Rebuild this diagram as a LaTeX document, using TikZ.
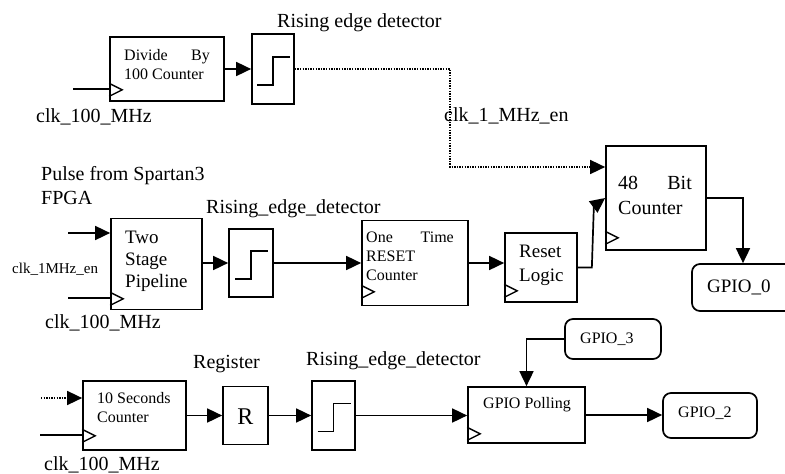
\documentclass[tikz,border=0pt]{standalone}
\usepackage{fontspec}
\setmainfont{Liberation Serif}
\usetikzlibrary{arrows.meta,calc}
\newcommand\stepsym[1]{\draw[stepln] ($(#1)+(-16,16)$) -- ++(16,0) -- ++(0,-28) -- ++(17,0);}
\newcommand\clkmark[2]{\draw[clkm] ($(#1.south west)+(0,6.5-#2)$) -- ++(13,-6.5) -- ++(-13,-6.5);}
\begin{document}
\begin{tikzpicture}[x=1pt,y=-1pt,
  blk/.style 2 args={draw,line width=1.7pt,minimum width=#1pt,minimum height=#2pt,inner sep=0pt},
  pad/.style 2 args={blk={#1}{#2},rounded corners=8pt},
  wire/.style={line width=1.7pt},
  arr/.style={wire,-{Triangle[length=15pt,width=14pt]}},
  dotw/.style={line width=1.6pt,dash pattern=on 1.3pt off 1.3pt},
  lbl/.style={inner sep=0pt,anchor=base west,font=\fontsize{20}{22}\selectfont},
  sml/.style={lbl,font=\fontsize{16}{18}\selectfont},
  med/.style={lbl,font=\fontsize{19}{21}\selectfont},
  stepln/.style={line width=1.9pt},
  clkm/.style={line width=1.4pt}]
\useasboundingbox (0,0) rectangle (785,474);
\fill[white] (0,0) rectangle (785,474);
% row 1
\node[blk={114}{64}] (div) at (167,69) {};
\node[blk={42}{70}] (red1) at (273,69) {};
\node[blk={100}{104}] (b48) at (656,198) {};
\node[pad={108}{47}] (gp0) at (746,287.5) {};
% row 2
\node[blk={91}{91}] (pipe) at (156.5,264) {};
\node[blk={44}{68}] (red2) at (251,263) {};
\node[blk={106}{85}] (otr) at (415,263) {};
\node[blk={72}{69}] (rst) at (541,267.5) {};
% row 3
\node[blk={103}{69}] (ten) at (134.5,415.5) {};
\node[blk={45}{58}] (reg) at (245.5,415.5) {};
\node[blk={43}{69}] (red3) at (333.5,415.5) {};
\node[blk={117}{56}] (poll) at (526.5,415) {};
\node[pad={96}{40}] (gp3) at (613,339) {};
\node[pad={94}{45}] (gp2) at (710,415.5) {};
% step symbols
\stepsym{red1}
\stepsym{red2}
\stepsym{red3}
% clock marks
\clkmark{div}{12}
\clkmark{pipe}{11.5}
\clkmark{otr}{14.5}
\clkmark{rst}{12}
\clkmark{b48}{13}
\clkmark{ten}{15}
\clkmark{poll}{10}
% texts
\node[lbl] (t1) at (277,27) {Rising edge detector};
\node[lbl] (c1) at (36,122) {clk\_100\_MHz};
\node[sml] (dv1) at (124,60) {Divide};
\node[sml,anchor=base east] (dv2) at (210,60) {By};
\node[sml] (dv3) at (124,79) {100 Counter};
\node[lbl] (en1) at (444,121) {clk\_1\_MHz\_en};
\node[lbl] (pl1) at (41,180) {Pulse from Spartan3};
\node[lbl] (pl2) at (41,204) {FPGA};
\node[lbl] (t2) at (206,213) {Rising\_edge\_detector};
\node[med] (tw1) at (125,243) {Two};
\node[med] (tw2) at (125,265) {Stage};
\node[med] (tw3) at (125,287) {Pipeline};
\node[sml,font=\fontsize{15}{17}\selectfont] (en2) at (12,273) {clk\_1MHz\_en};
\node[lbl] (c2) at (45,328) {clk\_100\_MHz};
\node[sml] (ot1) at (366,242) {One};
\node[sml,anchor=base east] (ot2) at (454,242) {Time};
\node[sml] (ot3) at (366,261) {RESET};
\node[sml] (ot4) at (366,280) {Counter};
\node[med] (rs1) at (519,257) {Reset};
\node[med] (rs2) at (519,281) {Logic};
\node[lbl] (b1) at (618,189) {48};
\node[lbl,anchor=base east] (b2) at (692,189) {Bit};
\node[lbl] (b3) at (618,214) {Counter};
\node[med] (g0) at (707,292) {GPIO\_0};
\node[lbl] (rg) at (193,368) {Register};
\node[lbl] (t3) at (306,365) {Rising\_edge\_detector};
\node[sml] (tn1) at (97,403) {10 Seconds};
\node[sml] (tn2) at (97,422) {Counter};
\node[inner sep=0pt,anchor=base,font=\fontsize{24}{26}\selectfont] (rr) at (245.5,424) {R};
\node[lbl] (c3) at (44,470) {clk\_100\_MHz};
\node[sml] (pt) at (483,408) {GPIO Polling};
\node[sml] (g3t) at (580,343) {GPIO\_3};
\node[sml] (g2t) at (678,417) {GPIO\_2};
% connectors
\draw[arr] (div.east) -- (red1.west);
\coordinate (dk) at (450,167);
\draw[dotw,-{Triangle[length=15pt,width=14pt]}] (red1.east) -| (dk) -- (dk -| b48.west);
\coordinate (c1in) at (73,89);
\draw[wire] (c1in) -- (c1in -| div.west);
\coordinate (pin) at (68,233);
\draw[arr] (pin) -- (pin -| pipe.west);
\coordinate (pck) at (68,298);
\draw[wire] (pck) -- (pck -| pipe.west);
\draw[arr] (red2.west -| pipe.east) -- (red2.west);
\draw[arr] (red2.east) -- (otr.west);
\draw[arr] (otr.east) -- (otr.east -| rst.west);
\draw[arr] (rst.east) -- ++(14,0) -- ++(2,-61) -- (b48.west);
\draw[arr] (b48.east) -| ($(gp0.north)+(-3,0)$);
\coordinate (tin) at (41,398);
\draw[dotw,-{Triangle[length=15pt,width=14pt]}] (tin) -- (tin -| ten.west);
\coordinate (tck) at (40,435);
\draw[wire] (tck) -- (tck -| ten.west);
\draw[arr] (ten.east) -- (reg.west);
\draw[arr] (reg.east) -- (red3.west);
\draw[arr] (red3.east) -- (red3.east -| poll.west);
\draw[arr] (gp3.west) -| (poll.north);
\draw[arr] (poll.east) -- (poll.east -| gp2.west);
\end{tikzpicture}
\end{document}
